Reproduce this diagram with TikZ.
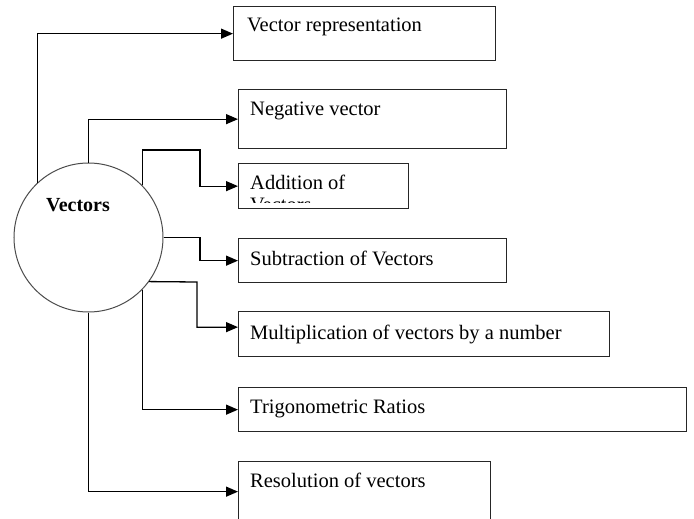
\documentclass[tikz,border=0pt]{standalone}
\usepackage{fontspec}
\setmainfont{Liberation Serif}
\usetikzlibrary{arrows.meta}
\begin{document}
\begin{tikzpicture}[x=1pt,y=-1pt,
  box/.style 2 args={draw=black!85, line width=1.3pt, inner sep=0pt,
    anchor=north west, minimum width=#1, minimum height=#2},
  lbl/.style={anchor=base west, inner sep=0pt, font=\fontsize{20.5}{20}\selectfont},
  link/.style={line width=1.3pt, -{Triangle[length=12pt,width=10pt]}}]
\useasboundingbox (0,0) rectangle (694,519);

% central topic
\node[draw=black!70, line width=1pt, circle, minimum size=149pt, inner sep=0pt] (c) at (88.5,237.5) {};
\node[anchor=base west, inner sep=0pt, font=\bfseries\fontsize{20}{20}\selectfont] (ct) at (46,211) {Vectors};

% sub-topic boxes
\node[box={262pt}{54pt}] (b1) at (233,6) {};
\node[box={268pt}{59pt}] (b2) at (238,89) {};
\node[box={170pt}{45pt}] (b3) at (238,163) {};
\node[box={268pt}{44pt}] (b4) at (238,238) {};
\node[box={371pt}{45pt}] (b5) at (238,311) {};
\node[box={448pt}{44pt}] (b6) at (238,387) {};
\node[box={252pt}{60pt}] (b7) at (238,461) {};

% box texts
\node[lbl] (t1) at (247,32) {Vector representation};
\node[lbl] (t2) at (250,115) {Negative vector};
\begin{scope}
  \clip (239,164) rectangle (407,202);
  \node[lbl] (t3) at (250,189) {Addition of};
  \node[lbl] (t3b) at (250,211) {Vectors};
\end{scope}
\node[lbl] (t4) at (250,265) {Subtraction of Vectors};
\node[lbl] (t5) at (250,339) {Multiplication of vectors by a number};
\node[lbl] (t6) at (250,413) {Trigonometric Ratios};
\node[lbl] (t7) at (250,487) {Resolution of vectors};

% elbow points
\coordinate (k3) at (200,150);
\coordinate (k4) at (200,237.5);
\coordinate (k5) at (197,282);

% connectors
\draw[link] (c.133.7) |- (b1.west);
\draw[link] (c.north) |- (b2.west);
\draw[link] (c.44) |- (k3) |- (b3.west);
\draw[link] (c.east) -- (k4) |- (b4.west);
\draw[link] (c.-36.7) -- (k5) |- ([yshift=7pt]b5.west);
\draw[link] (c.-44) |- (b6.west);
\draw[link] (c.south) |- (b7.west);
\end{tikzpicture}
\end{document}
